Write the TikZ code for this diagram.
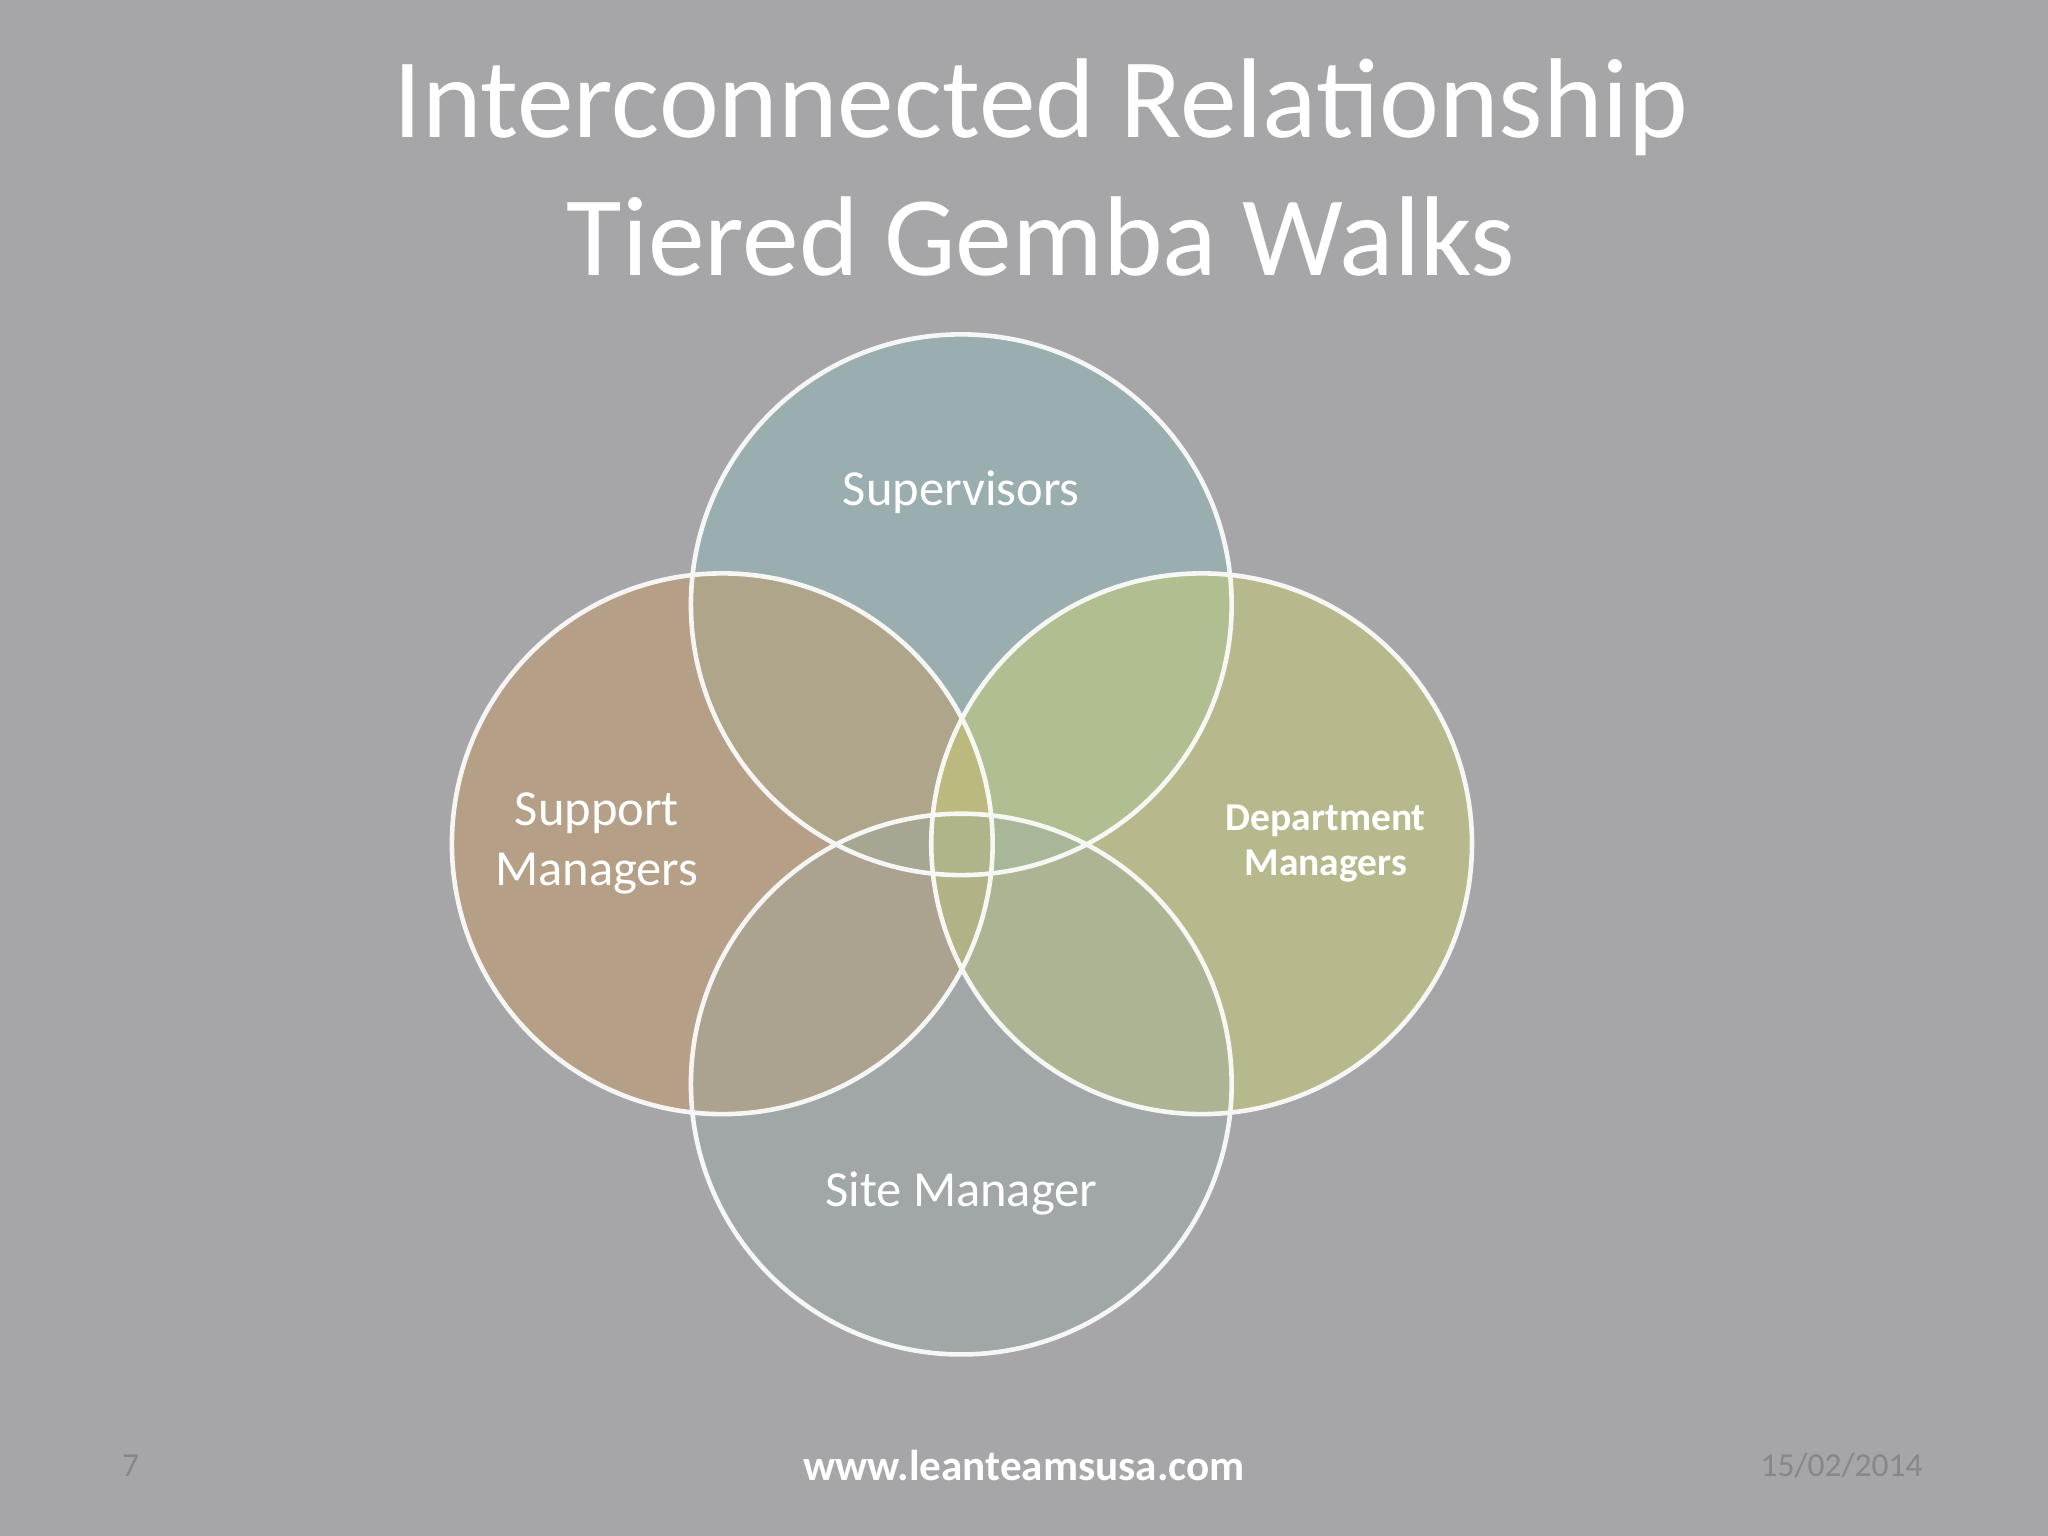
\documentclass[tikz,border=0pt]{standalone}
\usepackage{fontspec}
\setmainfont{Carlito}
\definecolor{bg}{RGB}{166,165,168}
\definecolor{ctop}{RGB}{140,185,185}
\definecolor{cleft}{RGB}{200,155,95}
\definecolor{cright}{RGB}{205,210,110}
\definecolor{cbot}{RGB}{150,170,165}
\definecolor{dim}{RGB}{135,135,138}
\begin{document}
\begin{tikzpicture}[x=0.01cm,y=-0.01cm,
  lbl/.style={text=white,font=\fontsize{11}{13}\selectfont,align=center}]
\fill[bg] (0,0) rectangle (1568,1176);
\node[text=white,font=\fontsize{24.7}{30}\selectfont,align=center] (title) at (797,128) {Interconnected Relationship\\Tiered Gemba Walks};
\fill[ctop,opacity=0.45] (736,463) circle (207);
\fill[cleft,opacity=0.45] (553,646) circle (207);
\fill[cright,opacity=0.45] (920,646) circle (207);
\fill[cbot,opacity=0.3] (736,830) circle (207);
\draw[white,line width=1pt,opacity=0.9] (736,463) circle (207) (553,646) circle (207) (920,646) circle (207) (736,830) circle (207);
\node[lbl] (sup) at (736,377) {Supervisors};
\node[lbl] (spm) at (457,646) {Support\\Managers};
\node[lbl,font=\bfseries\fontsize{8.6}{9.8}\selectfont] (dep) at (1015,646) {Department\\Managers};
\node[lbl] (site) at (736,914) {Site Manager};
\node[text=white,font=\bfseries\fontsize{9.4}{10}\selectfont] (www) at (784,1122) {www.leanteamsusa.com};
\node[text=dim,font=\fontsize{7.3}{8}\selectfont] (pg) at (100,1122) {7};
\node[text=dim,font=\fontsize{7.3}{8}\selectfont] (dt) at (1410,1122) {15/02/2014};
\end{tikzpicture}
\end{document}
